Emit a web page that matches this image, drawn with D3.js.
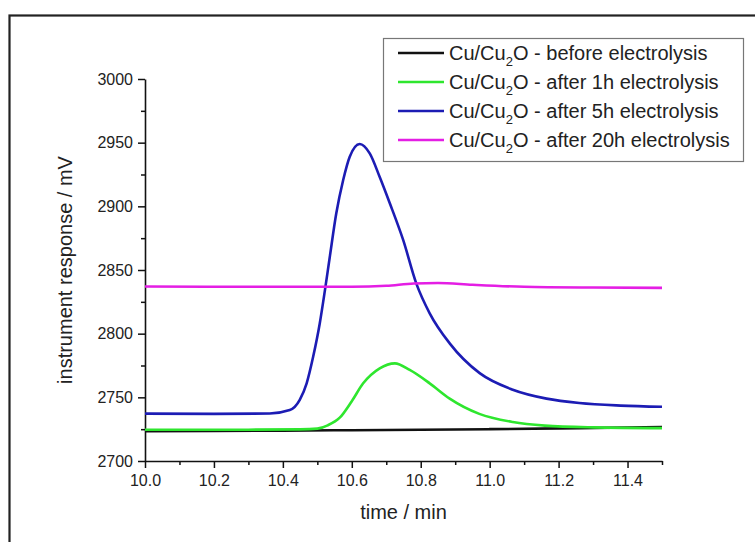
<!DOCTYPE html>
<html>
<head>
<meta charset="utf-8">
<script src="https://cdn.jsdelivr.net/npm/d3@7"></script>
<style>
  body { margin: 0; background: #fff; }
  text { font-family: "Liberation Sans", Arial, sans-serif; fill: #222; }
</style>
</head>
<body>
<div id="chart"></div>
<script>
// -------- data ----------------------------------- //
var seriesNames = [
  "before electrolysis",
  "after 1h electrolysis",
  "after 5h electrolysis",
  "after 20h electrolysis"
];
var seriesColors = ["#111111", "#2ee62e", "#1c1cb4", "#e41ee4"];

// [time (min), response (mV)]
var before = [
  [10.0, 2723.5], [10.2, 2723.6], [10.4, 2723.8], [10.6, 2724.2], [10.8, 2724.5],
  [11.0, 2725.0], [11.2, 2725.6], [11.4, 2726.3], [11.5, 2726.6]
];
var after1h = [
  [10.0, 2724.5], [10.3, 2724.6], [10.45, 2724.8], [10.5, 2725.4], [10.53, 2728],
  [10.565, 2734], [10.6, 2747], [10.633, 2761], [10.681, 2772.8], [10.725, 2776.7],
  [10.768, 2771.5], [10.826, 2761], [10.884, 2749], [10.97, 2737], [11.067, 2730.6],
  [11.16, 2727.8], [11.3, 2726.4], [11.5, 2725.8]
];
var after5h = [
  [10.0, 2737.2], [10.2, 2737.0], [10.362, 2737.3], [10.42, 2740], [10.449, 2748],
  [10.469, 2761], [10.488, 2782], [10.507, 2808], [10.522, 2834], [10.536, 2860],
  [10.555, 2894.5], [10.575, 2920.7], [10.594, 2939], [10.623, 2949], [10.652, 2941.6],
  [10.681, 2923], [10.71, 2902.6], [10.749, 2873.6], [10.787, 2839.5], [10.826, 2816],
  [10.884, 2792.4], [10.971, 2769], [11.067, 2756], [11.165, 2749], [11.26, 2745.5],
  [11.38, 2743.5], [11.5, 2742.6]
];
var after20h = [
  [10.0, 2837], [10.3, 2836.8], [10.6, 2836.8], [10.7, 2837.6], [10.78, 2839.4],
  [10.85, 2839.8], [10.95, 2838.4], [11.1, 2836.8], [11.3, 2836.2], [11.5, 2836]
];
var allSeries = [before, after1h, after5h, after20h];

var xTicks = [10.0, 10.2, 10.4, 10.6, 10.8, 11.0, 11.2, 11.4];
var yTicks = [2700, 2750, 2800, 2850, 2900, 2950, 3000];

// -------- layout ---------- //
var width = 755, height = 542;
var plot = { left: 145, right: 662, top: 79, bottom: 461 };

var svg = d3.select("#chart").append("svg")
  .attr("width", width)
  .attr("height", height);

// outer frame (only left and top edges show in the picture)
svg.append("rect")
  .attr("x", 9.5).attr("y", 15.5)
  .attr("width", 900).attr("height", 700)
  .attr("fill", "none")
  .attr("stroke", "#222")
  .attr("stroke-width", 2.2);

var x = d3.scaleLinear().domain([10.0, 11.5]).range([plot.left, plot.right]);
var y = d3.scaleLinear().domain([2700, 3000]).range([plot.bottom, plot.top]);

// minor ticks
var xAxisMinor = d3.axisBottom(x).tickValues(d3.range(10.1, 11.51, 0.2)).tickSize(4).tickFormat("");
var yAxisMinor = d3.axisLeft(y).tickValues(d3.range(2725, 3000, 50)).tickSize(4).tickFormat("");

svg.append("g").attr("transform", "translate(0," + plot.bottom + ")").call(xAxisMinor)
  .call(g => g.select(".domain").remove());
svg.append("g").attr("transform", "translate(" + plot.left + ",0)").call(yAxisMinor)
  .call(g => g.select(".domain").remove());

var xAxis = d3.axisBottom(x).tickValues(xTicks).tickSize(7).tickSizeOuter(0).tickPadding(7)
  .tickFormat(d3.format(".1f"));
var yAxis = d3.axisLeft(y).tickValues(yTicks).tickSize(7).tickSizeOuter(0).tickPadding(5)
  .tickFormat(d3.format("d"));

var gx = svg.append("g").attr("transform", "translate(0," + plot.bottom + ")").call(xAxis);
var gy = svg.append("g").attr("transform", "translate(" + plot.left + ",0)").call(yAxis);

[gx, gy].forEach(function(g) {
  g.selectAll("text").style("font-size", "16px").attr("fill", "#222")
    .style("font-family", "'Liberation Sans', Arial, sans-serif");
  g.select(".domain").attr("stroke", "#111").attr("stroke-width", 1.6);
});
svg.selectAll(".tick line").attr("stroke", "#111").attr("stroke-width", 1.5);

// axis titles
svg.append("text")
  .attr("x", (plot.left + plot.right) / 2)
  .attr("y", 519)
  .attr("text-anchor", "middle")
  .style("font-size", "20px")
  .text("time / min");

svg.append("text")
  .attr("transform", "translate(72," + (plot.top + plot.bottom) / 2 + ") rotate(-90)")
  .attr("text-anchor", "middle")
  .style("font-size", "20px")
  .text("instrument response / mV");

// -------- curves ---------- //
var line = d3.line()
  .x(d => x(d[0]))
  .y(d => y(d[1]))
  .curve(d3.curveMonotoneX);

svg.append("g")
  .selectAll("path")
  .data(allSeries)
  .join("path")
  .attr("d", line)
  .attr("fill", "none")
  .attr("stroke", (d, i) => seriesColors[i])
  .attr("stroke-width", 2.6)
  .attr("stroke-linejoin", "round");

// -------- legend ---------- //
var legend = svg.append("g");
legend.append("rect")
  .attr("x", 383.5).attr("y", 38.5)
  .attr("width", 360).attr("height", 123)
  .attr("fill", "#fff")
  .attr("stroke", "#777")
  .attr("stroke-width", 1.2);

var rows = legend.selectAll("g.row")
  .data(seriesNames)
  .join("g")
  .attr("class", "row")
  .attr("transform", (d, i) => "translate(0," + (53 + i * 29) + ")");

rows.append("line")
  .attr("x1", 398).attr("x2", 444)
  .attr("stroke", (d, i) => seriesColors[i])
  .attr("stroke-width", 2.6);

var label = rows.append("text")
  .attr("x", 449)
  .attr("y", 7)
  .style("font-size", "20px");
label.append("tspan").text("Cu/Cu");
label.append("tspan").attr("dy", 6).style("font-size", "13px").text("2");
label.append("tspan").attr("dy", -6).text("O - ");
label.append("tspan").text(d => d);
</script>
</body>
</html>
